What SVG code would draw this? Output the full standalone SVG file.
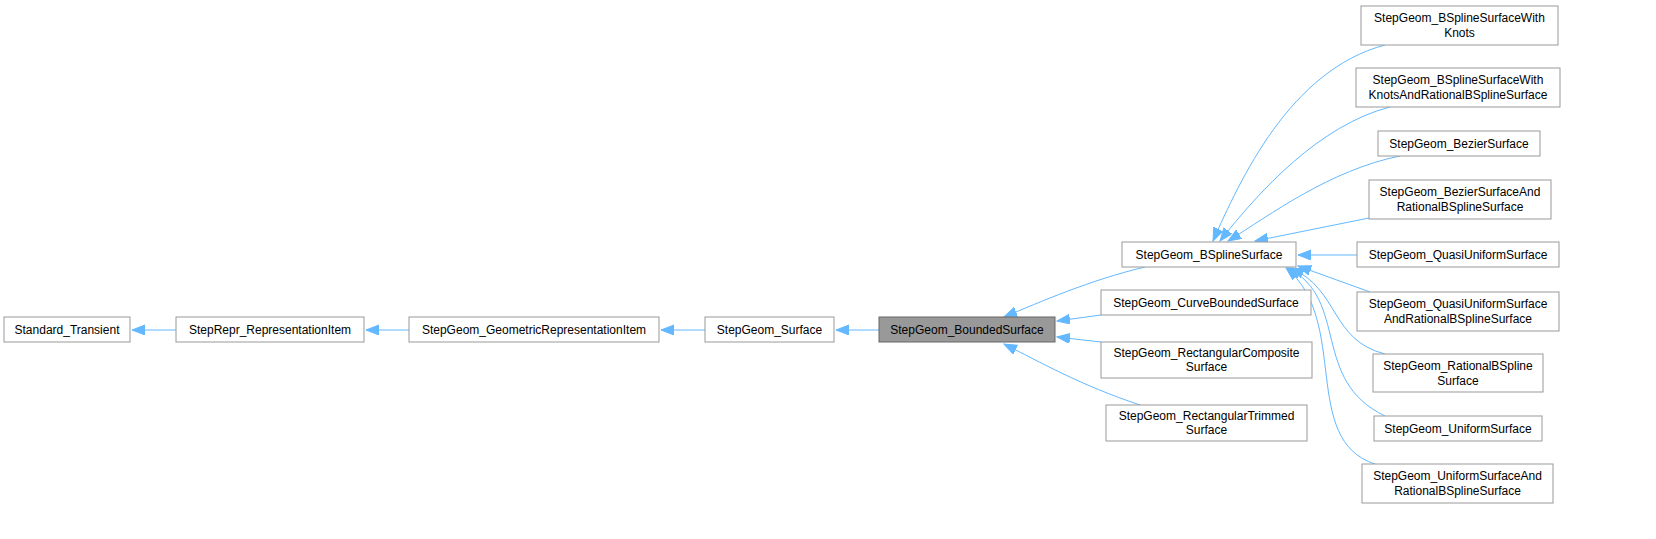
<svg xmlns="http://www.w3.org/2000/svg" width="1656" height="539" viewBox="0 0 1656 539">
<style>
.n rect{fill:#fff;stroke:#999;stroke-width:1}
.h rect{fill:#999;stroke:#666}
text{font-family:"Liberation Sans",Arial,sans-serif;font-size:12px;text-anchor:middle;fill:#000}
.e path{fill:none;stroke:#63b8ff;stroke-width:1;marker-start:url(#a)}
</style>
<defs><marker id="a" markerWidth="14" markerHeight="12" refX="13" refY="5" orient="auto-start-reverse" markerUnits="userSpaceOnUse" viewBox="0 0 14 12"><path d="M0,0 L13,5 L0,10 Z" fill="#63b8ff" stroke="#63b8ff"/></marker></defs>
<rect width="1656" height="539" fill="#fff"/>
<g class="e">
<path d="M132,330 H176"/>
<path d="M366,330 H409"/>
<path d="M661,330 H705"/>
<path d="M836,330 H879"/>
<path d="M1004,317 C1040,302 1090,280 1145,267"/>
<path d="M1057,321 L1101,315"/>
<path d="M1057,337 L1101,342"/>
<path d="M1004,344 C1040,362 1080,385 1140,405"/>
<path d="M1213,241 C1240,180 1290,70 1385,45"/>
<path d="M1220,241 C1260,190 1320,125 1390,107"/>
<path d="M1228,241 C1270,215 1330,170 1400,156"/>
<path d="M1255,241 L1369,218"/>
<path d="M1298,255 H1357"/>
<path d="M1298,266 L1370,292"/>
<path d="M1291,268 C1340,290 1330,340 1385,354"/>
<path d="M1288,268 C1350,300 1310,380 1385,416"/>
<path d="M1286,268 C1350,320 1300,440 1375,464"/>
</g>
<g id="n1" class="n"><rect x="4" y="317" width="126" height="25"/><text x="67" y="334">Standard_Transient</text></g>
<g id="n2" class="n"><rect x="176" y="317" width="188" height="25"/><text x="270" y="334">StepRepr_RepresentationItem</text></g>
<g id="n3" class="n"><rect x="409" y="317" width="250" height="25"/><text x="534" y="334">StepGeom_GeometricRepresentationItem</text></g>
<g id="n4" class="n"><rect x="705" y="317" width="129" height="25"/><text x="769.5" y="334">StepGeom_Surface</text></g>
<g id="n5" class="n h"><rect x="879" y="317" width="176" height="25"/><text x="967" y="334">StepGeom_BoundedSurface</text></g>
<g id="n6" class="n"><rect x="1122" y="242" width="174" height="25"/><text x="1209" y="259">StepGeom_BSplineSurface</text></g>
<g id="n7" class="n"><rect x="1101" y="290" width="210" height="25"/><text x="1206" y="307">StepGeom_CurveBoundedSurface</text></g>
<g id="n8" class="n"><rect x="1101" y="342" width="211" height="36"/><text x="1206.5" y="357">StepGeom_RectangularComposite</text><text x="1206.5" y="371">Surface</text></g>
<g id="n9" class="n"><rect x="1106" y="405" width="201" height="36"/><text x="1206.5" y="420">StepGeom_RectangularTrimmed</text><text x="1206.5" y="434">Surface</text></g>
<g id="n10" class="n"><rect x="1361" y="6" width="197" height="39"/><text x="1459.5" y="22">StepGeom_BSplineSurfaceWith</text><text x="1459.5" y="37">Knots</text></g>
<g id="n11" class="n"><rect x="1356" y="68" width="204" height="39"/><text x="1458" y="84">StepGeom_BSplineSurfaceWith</text><text x="1458" y="99">KnotsAndRationalBSplineSurface</text></g>
<g id="n12" class="n"><rect x="1378" y="131" width="162" height="25"/><text x="1459" y="148">StepGeom_BezierSurface</text></g>
<g id="n13" class="n"><rect x="1369" y="180" width="182" height="39"/><text x="1460" y="196">StepGeom_BezierSurfaceAnd</text><text x="1460" y="211">RationalBSplineSurface</text></g>
<g id="n14" class="n"><rect x="1357" y="242" width="202" height="25"/><text x="1458" y="259">StepGeom_QuasiUniformSurface</text></g>
<g id="n15" class="n"><rect x="1357" y="292" width="202" height="39"/><text x="1458" y="308">StepGeom_QuasiUniformSurface</text><text x="1458" y="323">AndRationalBSplineSurface</text></g>
<g id="n16" class="n"><rect x="1373" y="354" width="170" height="38"/><text x="1458" y="370">StepGeom_RationalBSpline</text><text x="1458" y="385">Surface</text></g>
<g id="n17" class="n"><rect x="1374" y="416" width="168" height="25"/><text x="1458" y="433">StepGeom_UniformSurface</text></g>
<g id="n18" class="n"><rect x="1362" y="464" width="191" height="39"/><text x="1457.5" y="480">StepGeom_UniformSurfaceAnd</text><text x="1457.5" y="495">RationalBSplineSurface</text></g>
</svg>
